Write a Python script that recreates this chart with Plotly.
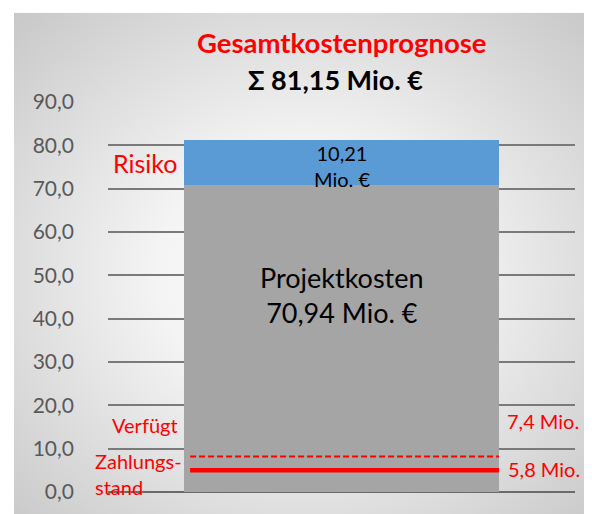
import base64
import plotly.graph_objects as go

# ---- data ----
categories = ["Gesamtkosten"]
projektkosten = [70.94]
risiko = [10.21]
gesamt_label = "Σ 81,15 Mio. €"
verfuegt_level = [8.2]      # dashed line as drawn
zahlung_level = [5.0]       # solid line as drawn
verfuegt_text = "7,4 Mio."
zahlung_text = "5,8 Mio."
y_ticks = [0, 10, 20, 30, 40, 50, 60, 70, 80, 90]

FONT = "Lato, 'Open Sans', sans-serif"
RED = "#ff0000"
BAR_W = 0.6745

# page body has an 8px margin: lay the figure out in shifted coordinates
OFF = 8
W, H = 592 - OFF, 514 - OFF
PL, PR, PT, PB = 108 - OFF, 575 - OFF, 102 - OFF, 492 - OFF   # plot area in figure px
PW, PH = PR - PL, PB - PT


def px(xp):  # target page x -> paper x
    return (xp - OFF - PL) / PW


def py(yp):  # target page y -> paper y
    return (PB - (yp - OFF)) / PH


fig = go.Figure()
fig.add_trace(go.Bar(x=[0], y=projektkosten, width=BAR_W, marker=dict(color="#a5a5a5", line=dict(width=0)),
                     name="Projektkosten", hoverinfo="skip"))
fig.add_trace(go.Bar(x=[0], y=risiko, width=BAR_W, marker=dict(color="#5b9bd5", line=dict(width=0)),
                     name="Risiko", hoverinfo="skip"))

lx = [-BAR_W / 2 + 0.013, BAR_W / 2]
fig.add_trace(go.Scatter(x=lx, y=verfuegt_level * 2, mode="lines",
                         line=dict(color=RED, width=2, dash="6px,3px"), hoverinfo="skip"))
fig.add_trace(go.Scatter(x=lx, y=zahlung_level * 2, mode="lines",
                         line=dict(color=RED, width=4.5), hoverinfo="skip"))

# background radial gradient
svg = ('<svg xmlns="http://www.w3.org/2000/svg" width="578" height="501" viewBox="0 0 578 501" preserveAspectRatio="none">'
       '<defs><radialGradient id="g" cx="0.5" cy="0.52" r="0.72">'
       '<stop offset="0" stop-color="#ffffff"/><stop offset="0.35" stop-color="#f4f4f4"/>'
       '<stop offset="1" stop-color="#c8c8c8"/></radialGradient></defs>'
       '<rect width="578" height="501" fill="url(#g)"/></svg>')
src = "data:image/svg+xml;base64," + base64.b64encode(svg.encode()).decode()
fig.add_layout_image(dict(source=src, xref="paper", yref="paper", x=px(14), y=py(12.7),
                          sizex=(592 - 14) / PW, sizey=(514 - 12.7) / PH, sizing="stretch",
                          layer="below", xanchor="left", yanchor="top"))

ann = [
    dict(x=px(342), y=py(42.7), text="<b>Gesamtkostenprognose</b>", font=dict(size=27.5, color=RED)),
    dict(x=px(335), y=py(79), text="<b>" + gesamt_label + "</b>", font=dict(size=27, color="#000000")),
    dict(x=px(145), y=py(163), text="Risiko", font=dict(size=25, color=RED)),
    dict(x=px(341.5), y=py(166), text="10,21<br>Mio. €", font=dict(size=20, color="#000000")),
    dict(x=px(341.5), y=py(294.5), text="Projektkosten<br>70,94 Mio. €", font=dict(size=27, color="#000000")),
    dict(x=px(145), y=py(425), text="Verfügt", font=dict(size=20, color=RED)),
    dict(x=px(93), y=py(474), text="Zahlungs-<br>stand", font=dict(size=20, color=RED), xanchor="left", align="left"),
    dict(x=px(543), y=py(420.7), text=verfuegt_text, font=dict(size=20, color=RED)),
    dict(x=px(544), y=py(469), text=zahlung_text, font=dict(size=20, color=RED)),
]
for a in ann:
    a.setdefault("xanchor", "center")
    a.update(xref="paper", yref="paper", showarrow=False, yanchor="middle")
    a["font"]["family"] = FONT
    fig.add_annotation(**a)

fig.update_layout(
    width=W, height=H,
    margin=dict(l=PL, r=W - PR, t=PT, b=H - PB),
    barmode="stack", bargap=0,
    showlegend=False,
    separators=",.",
    paper_bgcolor="#ffffff", plot_bgcolor="rgba(0,0,0,0)",
    font=dict(family=FONT),
    xaxis=dict(range=[-0.5, 0.5], visible=False),
    yaxis=dict(range=[0, 90], tickvals=y_ticks, tickformat=".1f", showgrid=True,
               gridcolor="#7a7a7a", gridwidth=2, zeroline=True, zerolinecolor="#6a6a6a", zerolinewidth=2,
               showline=False, ticks="", ticklabelstandoff=33,
               tickfont=dict(family=FONT, size=21, color="#595959")),
)

fig.write_html("out.html")
